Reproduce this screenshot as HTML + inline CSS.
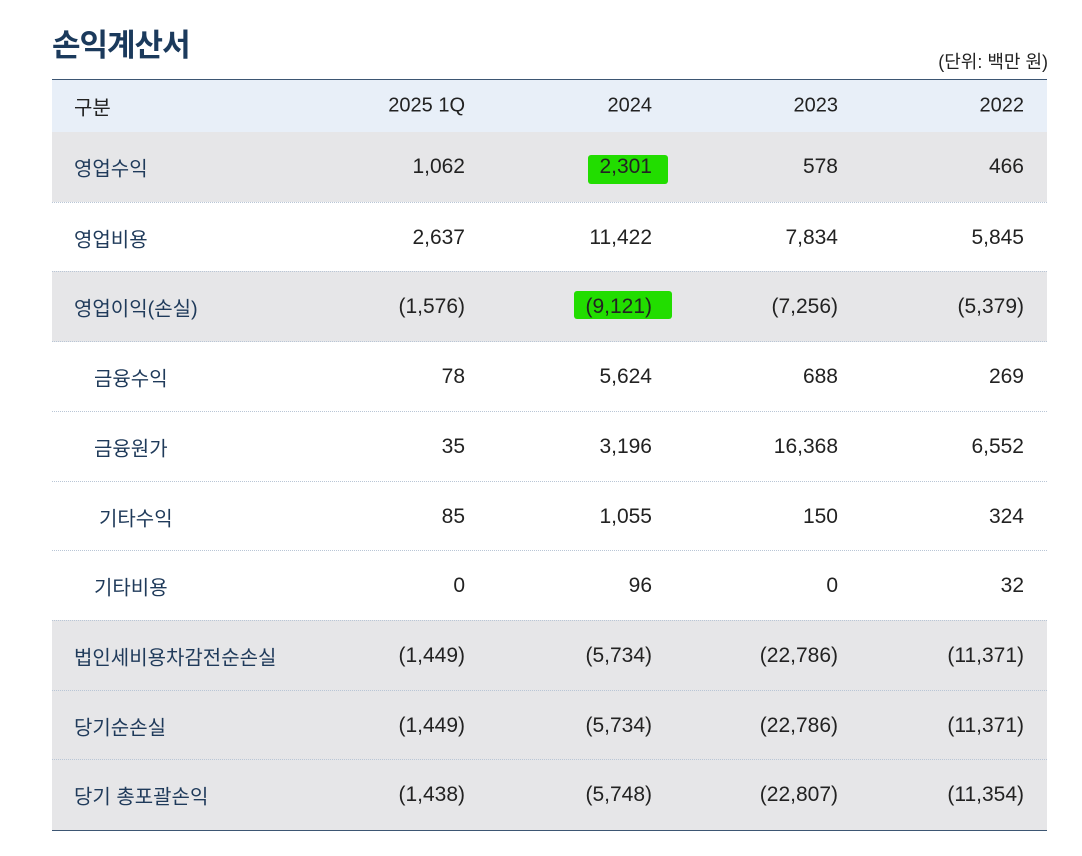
<!DOCTYPE html>
<html><head><meta charset="utf-8"><style>
body{margin:0;width:1082px;height:856px;background:#fff;position:relative;font-family:"Liberation Sans","Noto Sans CJK KR",sans-serif;overflow:hidden}
.t{position:absolute;left:52px;top:20px;font-size:31px;font-weight:bold;color:#1b3a5c;letter-spacing:-1px}
.u{position:absolute;right:34px;top:48px;font-size:18px;color:#222}
.row{position:absolute;left:52px;width:995px;}
.lab{position:absolute;font-size:20px;color:#1f3a5a;top:50%;transform:translateY(-50%)}
.num{position:absolute;font-size:21px;color:#222;top:50%;transform:translateY(-50%);text-align:right;width:160px}
.hl{position:absolute;background:#22dd00;border-radius:3px}
</style></head><body>
<div class="t">손익계산서</div>
<div class="u">(단위: 백만 원)</div>
<div id="tbl"></div>
<script>
const cols=["구분","2025 1Q","2024","2023","2022"];
const labels=["영업수익","영업비용","영업이익(손실)","금융수익","금융원가","기타수익","기타비용","법인세비용차감전순손실","당기순손실","당기 총포괄손익"];
const v2025=["1,062","2,637","(1,576)","78","35","85","0","(1,449)","(1,449)","(1,438)"];
const v2024=["2,301","11,422","(9,121)","5,624","3,196","1,055","96","(5,734)","(5,734)","(5,748)"];
const v2023=["578","7,834","(7,256)","688","16,368","150","0","(22,786)","(22,786)","(22,807)"];
const v2022=["466","5,845","(5,379)","269","6,552","324","32","(11,371)","(11,371)","(11,354)"];
const gray=[1,0,1,0,0,0,0,1,1,1];
const indent=[0,0,0,20,20,25,20,0,0,0];
const rights=[465,652,838,1024];
const tbl=document.getElementById('tbl');
function mk(cls,txt,x){const d=document.createElement('div');d.className=cls;d.textContent=txt;if(cls==='num')d.style.left=(x-52-160)+'px';else d.style.left=x+'px';return d;}
// header
const h=document.createElement('div');


h.className='row';h.style.top='79px';h.style.height='52px';h.style.background='#e8eff8';h.style.borderTop='1px solid #3d5673';h.style.borderBottom='1px solid #3d5673';
const hl=mk('lab',cols[0],22);hl.style.color='#222';h.appendChild(hl);
for(let c=1;c<5;c++){const n=mk('num',cols[c],rights[c-1]);n.style.fontSize='20px';


h.appendChild(n);}
tbl.appendChild(h);
const vals=[v2025,v2024,v2023,v2022];
const tops=[132,202,271,341,411,481,550,620,690,759,829];
for(let i=0;i<labels.length;i++){
 const r=document.createElement('div');r.className='row';
 
 
 r.style.top=tops[i]+'px';r.style.height=(tops[i+1]-tops[i])+'px';
 if(gray[i])r.style.background='#e6e6e8';
 if(i>0)r.style.borderTop='1px dotted #b9c6d6';
 if(i===labels.length-1)r.style.borderBottom='1px solid #3d5673';
 const l=mk('lab',labels[i],22+indent[i]);
 
 
 r.appendChild(l);
 for(let c=0;c<4;c++){const n=mk('num',vals[c][i],rights[c]);
 
 
 r.appendChild(n);}
 tbl.appendChild(r);
}
// highlights
[[588,155,80,29],[574,291,98,28]].forEach(a=>{const d=document.createElement('div');d.className='hl';


d.style.left=a[0]+'px';d.style.top=a[1]+'px';d.style.width=a[2]+'px';d.style.height=a[3]+'px';d.style.zIndex=1;document.body.appendChild(d);});
document.querySelectorAll('.row').forEach(r=>r.style.zIndex=0);
</script>
<style>.row .num,.row .lab{z-index:2}.row{z-index:auto!important}</style>
</body></html>
